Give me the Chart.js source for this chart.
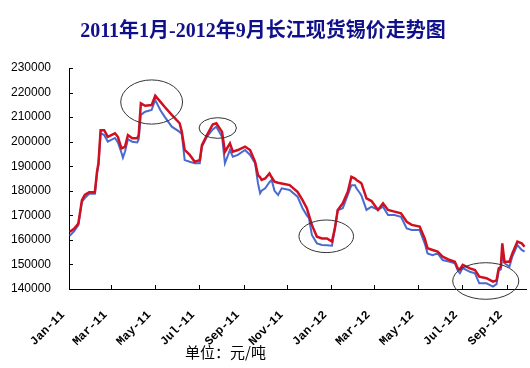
<!DOCTYPE html>
<html>
<head>
<meta charset="utf-8">
<script src="https://cdn.jsdelivr.net/npm/chart.js@4/dist/chart.umd.min.js"></script>
<style>
  body { margin: 0; background: #fff; }
  #wrap { width: 530px; height: 368px; }
</style>
</head>
<body>
<div id="wrap"><canvas id="tinChart" width="530" height="368"></canvas></div>
<script>
// days since 2011-01-01
const days = [1,7,13,18,22,28,36,39,41,44,49,54,64,68,73,75,78,82,88,95,
  97,100,106,115,120,127,133,143,154,157,161,168,175,182,185,192,200,205,213,217,
  224,228,235,245,252,259,263,266,268,273,279,282,286,291,296,307,318,325,331,334,
  338,345,352,359,366,370,374,381,388,393,398,400,405,407,414,421,430,437,444,453,
  462,470,477,488,495,499,506,513,520,530,537,541,544,548,558,565,571,581,590,595,
  598,601,603,606,613,617,624,630,634];

const redPrice = [163300,164500,166700,176200,178300,179400,179400,187800,191200,204700,
  204700,202000,203400,202000,197300,197500,198000,202700,201400,201400,
  202700,215600,214600,214900,218700,216300,214200,210900,207500,204000,
  196600,194600,191800,192500,198600,202700,207000,207500,204000,195900,
  199300,195900,196600,198000,196600,191800,186400,185500,184400,185000,
  187100,185500,183700,183300,183000,182300,179600,176200,172900,170000,
  166100,161300,160600,160600,159300,164700,172200,174900,179600,185700,
  185000,184400,183500,183000,176900,175800,172200,174900,172200,171500,
  170800,167400,166100,165400,160600,156600,155900,155200,153200,151800,
  151100,148400,148000,149800,148400,147700,145000,144400,143000,143500,
  148400,149000,158600,151100,151100,154500,159300,158600,157200];

const bluePrice = [161700,163500,166000,175500,177000,178800,178800,187000,190500,203500,
  202700,200000,201500,199700,195500,193500,196000,201000,200000,199700,
  201000,210900,212200,212900,217000,212900,210200,206100,204000,203000,
  192500,191800,191200,191200,198000,202000,205000,206100,202000,191200,
  196600,193900,194600,196600,194600,191200,183000,179000,180000,181000,
  183500,184400,180000,178300,181000,180300,177600,172900,170000,168800,
  162000,158600,157900,157800,157600,164500,172000,172900,178300,182300,
  182300,181000,179000,178000,172200,173500,172200,173500,170100,170100,
  169400,164700,164000,164000,158600,154500,153800,154500,151800,151100,
  150500,147500,146400,148500,147000,146400,142300,142300,141000,142000,
  147500,148000,154500,150500,149100,153200,157900,155900,155200];

const tickDays = [0,59,120,181,243,304,365,425,486,547,609];
const tickLabels = ["Jan-11","Mar-11","May-11","Jul-11","Sep-11","Nov-11",
  "Jan-12","Mar-12","May-12","Jul-12","Sep-12"];

// circled areas: center day, center price, half width (days), half height (price)
const highlights = [
  { day: 115, price: 216150, rDay: 43, rPrice: 9000 },
  { day: 207, price: 205560, rDay: 26, rPrice: 4200 },
  { day: 358, price: 161460, rDay: 38, rPrice: 6640 },
  { day: 580, price: 143260, rDay: 46, rPrice: 7450 }
];

const unitText = "单位：元/吨";

const extras = {
  id: "extras",
  afterDraw(chart) {
    const c = chart.ctx;
    const xs = chart.scales.x;
    const ys = chart.scales.y;
    const area = chart.chartArea;
    c.save();
    c.strokeStyle = "#000";
    c.lineWidth = 1;
    // inside tick marks
    c.beginPath();
    tickDays.forEach((d) => {
      const px = Math.round(xs.getPixelForValue(d)) + 0.5;
      c.moveTo(px, area.bottom);
      c.lineTo(px, area.bottom - 4);
    });
    ys.ticks.forEach((t) => {
      const py = Math.round(ys.getPixelForValue(t.value)) + 0.5;
      c.moveTo(area.left, py);
      c.lineTo(area.left + 4, py);
    });
    c.stroke();

    // ellipses
    c.strokeStyle = "#333";
    highlights.forEach((h) => {
      const cx = xs.getPixelForValue(h.day);
      const cy = ys.getPixelForValue(h.price);
      const rx = Math.abs(xs.getPixelForValue(h.day + h.rDay) - cx);
      const ry = Math.abs(ys.getPixelForValue(h.price + h.rPrice) - cy);
      c.beginPath();
      c.ellipse(cx, cy, rx, ry, 0, 0, Math.PI * 2);
      c.stroke();
    });

    // unit label
    c.fillStyle = "#000";
    c.font = "15px 'Noto Sans CJK SC'";
    c.textBaseline = "middle";
    c.textAlign = "left";
    c.fillText(unitText, 185, 352);
    c.restore();
  }
};

const ctx = document.getElementById("tinChart").getContext("2d");

new Chart(ctx, {
  type: "line",
  data: {
    datasets: [
      {
        label: "red",
        data: days.map((d, i) => ({ x: d, y: redPrice[i] })),
        borderColor: "#d01020",
        borderWidth: 2.5,
        pointRadius: 0,
        tension: 0,
        fill: false,
        order: 1,
      },
      {
        label: "blue",
        data: days.map((d, i) => ({ x: d, y: bluePrice[i] })),
        borderColor: "#4a6ad0",
        borderWidth: 2,
        pointRadius: 0,
        tension: 0,
        fill: false,
        order: 2,
      },
    ],
  },
  options: {
    responsive: false,
    animation: false,
    layout: { padding: { top: 0, right: 4, bottom: 0, left: 0 } },
    plugins: {
      legend: { display: false },
      tooltip: { enabled: false },
      title: {
        display: true,
        text: "2011年1月-2012年9月长江现货锡价走势图",
        color: "#10108a",
        font: { family: "'Liberation Serif', 'Noto Sans CJK SC'", size: 20, weight: "bold", lineHeight: 1.2 },
        padding: { top: 20, bottom: 24 },
      },
    },
    scales: {
      x: {
        type: "linear",
        min: 0,
        max: 636,
        afterBuildTicks: (scale) => {
          scale.ticks = tickDays.map((v) => ({ value: v }));
        },
        afterFit: (scale) => {
          scale.height = 79;
        },
        grid: { display: false },
        border: { color: "#000", width: 1 },
        ticks: {
          autoSkip: false,
          maxRotation: 45,
          minRotation: 45,
          padding: 11,
          labelOffset: -6,
          color: "#000",
          font: { family: "'Liberation Mono'", size: 12, weight: "bold" },
          callback: (v) => {
            const i = tickDays.indexOf(v);
            return i >= 0 ? tickLabels[i] : "";
          },
        },
      },
      y: {
        min: 140000,
        max: 230000,
        afterFit: (scale) => {
          scale.width = 69;
        },
        grid: { display: false },
        border: { color: "#000", width: 1 },
        ticks: {
          stepSize: 10000,
          padding: 10,
          color: "#000",
          font: { family: "'Liberation Sans'", size: 12 },
          callback: (v) => String(v),
        },
      },
    },
  },
  plugins: [extras],
});
</script>
</body>
</html>
